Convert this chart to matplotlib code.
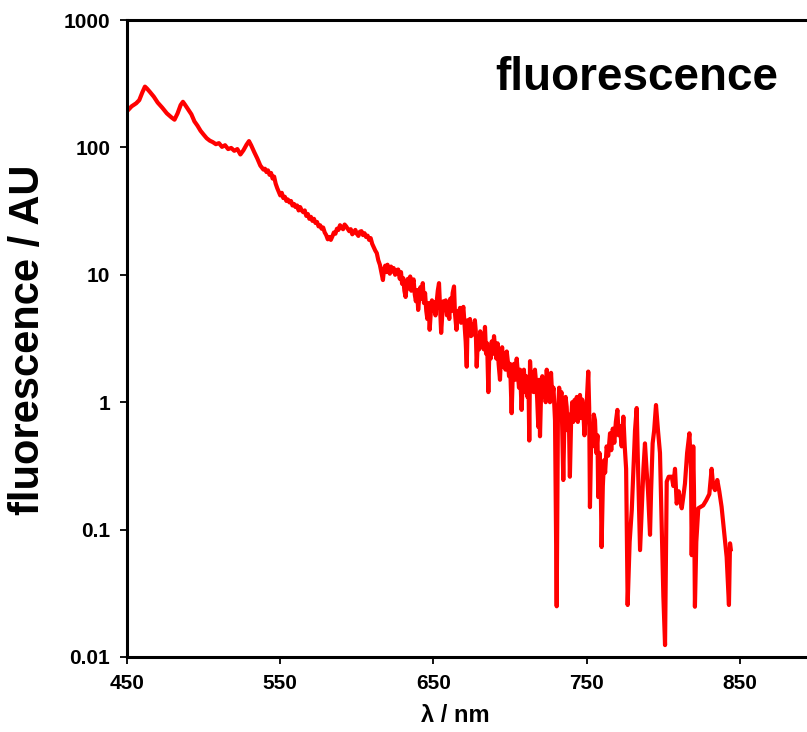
import matplotlib
matplotlib.use("Agg")
import matplotlib.pyplot as plt
from matplotlib.ticker import FixedLocator, FixedFormatter, NullLocator

# region 1: 450-540 nm
wl_1 = [450.5, 453, 456, 458, 460, 461.7, 463, 465, 467.5, 470, 473, 476, 479, 481, 483, 485, 486.5, 488, 490, 492,
        494, 496, 498, 500, 502, 504, 506, 508, 510, 512, 514, 516, 518, 520, 522, 524, 526, 528, 529.6, 531,
        533, 535, 537, 539]
fl_1 = [195, 210, 222, 235, 270, 300, 290, 272, 250, 225, 205, 185, 172, 165, 185, 215, 228, 215, 198, 182,
        160, 148, 135, 126, 118, 113, 110, 106, 108, 101, 104, 97, 99, 94, 97, 88, 95, 105, 112, 104,
        92, 82, 72, 67]

# region 2: 540-617 nm
wl_2 = [540, 541, 542, 543, 544, 545, 546, 547, 548, 549, 550, 551, 552, 553, 554, 555, 556, 557, 558, 559,
        560, 561, 562, 563, 564, 565, 566, 567, 568, 569, 570, 571, 572, 573, 574, 575, 576, 577, 578, 579,
        580, 581, 582, 583, 584, 585, 586, 587, 588, 589, 590, 591, 592, 593, 594, 595, 596, 597, 598, 599,
        600, 601, 602, 603, 604, 605, 606, 607, 608, 609, 610, 611, 612, 613, 614, 615, 616, 617]
fl_2 = [68, 64, 66, 61, 63, 57, 59, 52, 48, 45, 42, 44, 40, 41, 38, 39, 37, 38, 35, 36,
        34, 35, 32, 34, 32, 31, 32, 29, 30, 27.5, 28.5, 26.5, 27.5, 25.5, 26, 24, 24.5, 23, 23.5, 21.5,
        20.5, 19, 19.8, 18.8, 20, 21.5, 21, 23, 22.5, 24.5, 23.5, 22.8, 24.8, 24, 23, 22, 22.8, 20.8, 21.5, 22.5,
        21, 20.2, 21.8, 22, 20.5, 21.2, 19.8, 20.3, 18.8, 19.4, 17.5, 16.5, 15.5, 14.8, 13, 12, 10.5, 9.1]

# region 3: 617-660 nm
wl_3 = [617.7, 618.5, 619.3, 620, 620.8, 621.5, 622.3, 623, 624, 625, 626, 627, 628, 628.8, 629.5, 630.3, 631, 631.8, 632.5, 633.3,
        634, 634.8, 635.5, 636.3, 637, 637.8, 638.5, 639.3, 640, 640.8, 641.5, 642.3, 643, 643.8, 644.5, 645.3, 646, 646.8, 647.5, 648.3,
        649, 649.8, 650.5, 651.3, 652, 652.8, 653.6, 654.3, 655, 655.8, 656.5, 657.3, 658, 658.8, 659.5]
fl_3 = [11, 11.8, 10.5, 12, 11.2, 10.2, 11.6, 10.6, 11.3, 10, 10.9, 11, 9.3, 10.5, 8.5, 9.4, 7.5, 6.7, 8.2, 9.3,
        7.8, 9.7, 7.5, 8.5, 9.2, 7, 6.2, 7.6, 5.3, 6.8, 8, 6.5, 8.6, 6, 7.2, 5.2, 4.5, 6, 3.7, 5.2,
        6.3, 5.2, 6.1, 4.8, 6, 7.5, 8.6, 5.5, 3.5, 5, 6.2, 5.3, 6.3, 4.8, 5.6]

# region 4: 660-700 nm
wl_4 = [660.3, 661, 661.8, 662.5, 663.4, 664, 665, 665.8, 666.5, 667.3, 668, 668.8, 669.5, 670.3, 671, 671.7, 672.3, 673, 673.8, 674.5,
        675.3, 676, 677, 677.6, 678.2, 679, 679.8, 680.5, 681.3, 682, 682.8, 683.6, 684.3, 685, 685.8, 686.5, 687.3, 688, 688.8, 689.5,
        690.3, 691, 691.8, 692.5, 693.4, 694, 694.8, 695.5, 696.3, 697, 697.8, 698.5, 699.3, 700]
fl_4 = [4.5, 6.5, 5.2, 7.2, 8.1, 5, 3.7, 5.2, 4.6, 5.5, 4.2, 5.2, 5.6, 4, 3, 1.9, 4.4, 3.6, 4.5, 3.3,
        4.1, 3.4, 4.4, 3.6, 1.9, 3.2, 2.6, 3.6, 2.9, 3.4, 2.6, 3.9, 2.4, 2.9, 1.2, 2.7, 2.2, 3, 2.4, 3.3,
        2.6, 2.2, 2.9, 2.0, 1.5, 2.3, 2.7, 1.9, 2.4, 1.8, 2.5, 2.1, 1.6, 2.0]

# region 5: 700-740 nm
wl_5 = [701, 701.7, 702.5, 703.3, 704.3, 705, 705.8, 706.5, 707.5, 708.3, 709, 709.8, 710.5, 711.3, 712, 712.5, 713, 713.8, 714.5, 715.3,
        716.2, 717, 717.6, 718.4, 719, 719.5, 720.3, 721, 721.8, 722.5, 723.2, 723.9, 724.6, 725.3, 726, 726.7, 727.5, 728.3, 729.3, 730.4,
        731.2, 732, 732.8, 733.5, 734.7, 735.5, 736.2, 736.9, 737.6, 738.3, 739, 739.8]
fl_5 = [0.82, 1.6, 2.0, 1.5, 2.2, 1.7, 1.3, 1.8, 0.87, 1.5, 1.8, 1.2, 1.6, 1.1, 1.4, 0.5, 2.1, 1.3, 1.7, 1.2,
        1.8, 1.4, 1.1, 0.64, 1.5, 0.54, 1.3, 1.6, 1.1, 1.5, 1.0, 1.8, 1.2, 1.5, 1.0, 1.7, 1.1, 1.3, 0.72, 0.025,
        0.8, 1.3, 1.0, 1.2, 0.245, 0.8, 1.1, 0.92, 0.6, 0.8, 0.26, 0.7]

# region 6: 740-777 nm
wl_6 = [740.5, 741.2, 742, 742.7, 743.5, 744.2, 745, 745.6, 746.3, 747, 747.7, 748.5, 749.3, 750, 751, 751.6, 752.1, 753, 753.8, 754.6,
        755.4, 756.2, 757, 757.5, 758.3, 759, 759.7, 760.5, 761.3, 762, 763, 764, 765.2, 766, 767, 768, 769, 770, 770.8, 771.6,
        772.8, 773.9, 774.8, 775.7, 776.7]
fl_6 = [1.0, 0.7, 1.04, 0.8, 1.1, 0.7, 1.0, 1.14, 0.75, 1.05, 0.9, 0.55, 0.8, 1.0, 1.74, 0.9, 0.15, 0.6, 0.45, 0.8,
        0.72, 0.4, 0.55, 0.18, 0.4, 0.3, 0.073, 0.22, 0.35, 0.28, 0.45, 0.38, 0.57, 0.42, 0.62, 0.48, 0.7, 0.87, 0.55, 0.65,
        0.45, 0.77, 0.45, 0.3, 0.0256]

# region 7: 777-845 nm
wl_7 = [778, 779.4, 780.5, 781.5, 782.6, 783.5, 784.8, 786, 787, 788, 789, 790, 791.3, 792, 793, 794, 795.2, 796.5, 797.8, 799,
        800, 801.1, 802.2, 803.5, 805.5, 806.5, 807.6, 808.7, 810, 811, 812, 813, 814.1, 815.5, 817, 818, 818.5, 819.5, 820, 820.6,
        821.5, 822.8, 824, 826, 828, 830, 831.5, 832.5, 833.7, 835.2, 836.5, 838, 839.5, 841.3, 842.8, 843.5, 844]
fl_7 = [0.08, 0.143, 0.3, 0.6, 0.9, 0.3, 0.069, 0.15, 0.3, 0.475, 0.3, 0.2, 0.091, 0.2, 0.475, 0.6, 0.95, 0.6, 0.40, 0.1,
        0.03, 0.0124, 0.238, 0.26, 0.26, 0.22, 0.30, 0.16, 0.2, 0.17, 0.147, 0.18, 0.23, 0.4, 0.57, 0.3, 0.063, 0.45, 0.2, 0.0248,
        0.08, 0.147, 0.15, 0.155, 0.17, 0.19, 0.30, 0.22, 0.204, 0.245, 0.2, 0.151, 0.1, 0.061, 0.0256, 0.078, 0.07]

x_ticks = [450, 550, 650, 750, 850]
x_tick_labels = ["450", "550", "650", "750", "850"]
y_ticks = [0.01, 0.1, 1, 10, 100, 1000]
y_tick_labels = ["0.01", "0.1", "1", "10", "100", "1000"]

wavelength = wl_1 + wl_2 + wl_3 + wl_4 + wl_5 + wl_6 + wl_7
fluorescence = fl_1 + fl_2 + fl_3 + fl_4 + fl_5 + fl_6 + fl_7

plt.rcParams['font.family'] = ['Liberation Sans', 'DejaVu Sans']
plt.rcParams['font.weight'] = 'bold'

W, H = 807, 732
fig = plt.figure(figsize=(W / 100, H / 100), dpi=100)
left_px, right_px, top_px, bottom_px = 127, 816.6, 20, 657
ax = fig.add_axes([left_px / W, 1 - bottom_px / H, (right_px - left_px) / W, (bottom_px - top_px) / H])

ax.plot(wavelength, fluorescence, color='#ff0000', linewidth=3.0)

ax.set_yscale('log')
ax.set_xlim(450, 900)
ax.set_ylim(0.01, 1000)

ax.xaxis.set_major_locator(FixedLocator(x_ticks))
ax.xaxis.set_major_formatter(FixedFormatter(x_tick_labels))
ax.yaxis.set_major_locator(FixedLocator(y_ticks))
ax.yaxis.set_major_formatter(FixedFormatter(y_tick_labels))
ax.yaxis.set_minor_locator(NullLocator())
ax.xaxis.set_minor_locator(NullLocator())

for s in ['left', 'bottom', 'top']:
    ax.spines[s].set_linewidth(2.2)
    ax.spines[s].set_color('black')
ax.spines['right'].set_visible(False)

ax.tick_params(axis='both', direction='out', length=5, width=1.3, labelsize=15, pad=7, colors='black')
for lab in ax.get_xticklabels() + ax.get_yticklabels():
    lab.set_fontweight('bold')

fig.text(28 / W, 1 - 340 / H, 'fluorescence / AU', rotation=90, ha='center', va='center',
         fontsize=30, fontweight='bold')
fig.text(455 / W, 1 - 715 / H, 'λ / nm', ha='center', va='center', fontsize=17, fontweight='bold')
fig.text(778 / W, 1 - 90 / H, 'fluorescence', ha='right', va='baseline', fontsize=33, fontweight='bold')

fig.savefig('out.png', dpi=100)
